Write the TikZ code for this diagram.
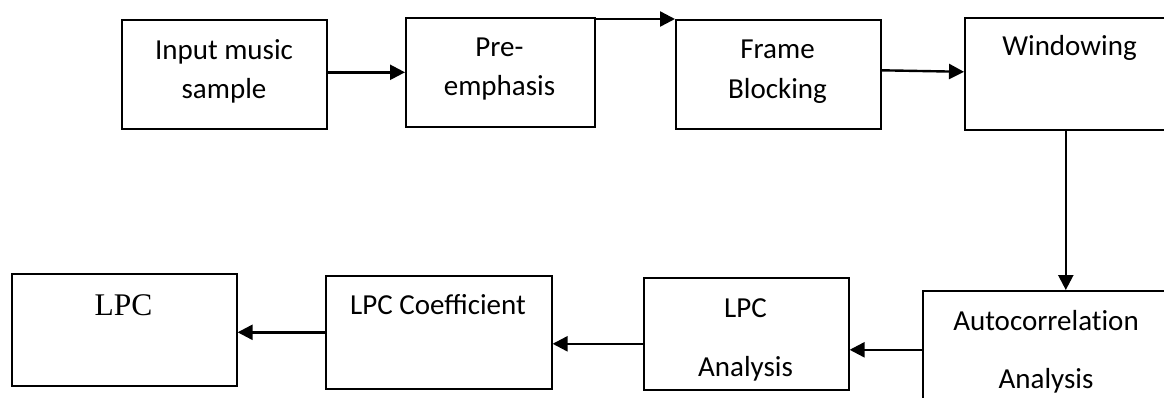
\documentclass[tikz,border=0pt]{standalone}
\usepackage{fontspec}
\setmainfont{Carlito}
\newfontfamily\tnr{Liberation Serif}
\usetikzlibrary{arrows.meta,positioning}
\tikzset{
  box/.style={draw, line width=1.6pt, inner sep=0pt, anchor=north west},
  lbl/.style={inner sep=0pt, anchor=base, font=\fontsize{29}{39}\selectfont},
  flow/.style={line width=2.4pt, -{Triangle[length=15pt,width=15pt]}}
}
\begin{document}
\begin{tikzpicture}[x=1pt,y=-1pt]
\useasboundingbox (0,0) rectangle (1164,397);
\clip (0,0) rectangle (1164,397);
\fill[white] (0,0) rectangle (1164,397);
% boxes
\node[box, minimum width=205pt, minimum height=109pt] (b1) at (121,19) {};
\node[box, minimum width=189pt, minimum height=109pt] (b2) at (405,17) {};
\node[box, minimum width=205pt, minimum height=109pt] (b3) at (675,19) {};
\node[box, minimum width=211pt, minimum height=112pt] (b4) at (964,17) {};
\node[box, minimum width=248pt, minimum height=118pt] (b5) at (922,290) {};
\node[box, minimum width=205pt, minimum height=112pt] (b6) at (643,277) {};
\node[box, minimum width=226pt, minimum height=113pt] (b7) at (325,275) {};
\node[box, minimum width=225pt, minimum height=112pt] (b8) at (11,273) {};
% texts
\node[lbl] (t1a) at (224,59) {Input music};
\node[lbl] (t1b) at (224,98) {sample};
\node[lbl] (t2a) at (499.5,56) {Pre-};
\node[lbl] (t2b) at (499.5,95) {emphasis};
\node[lbl] (t3a) at (777.5,58) {Frame};
\node[lbl] (t3b) at (777.5,98) {Blocking};
\node[lbl] (t4) at (1069.5,55) {Windowing};
\node[lbl] (t5a) at (1046,330) {Autocorrelat\kern0pt ion};
\node[lbl] (t5b) at (1046,388) {Analysis};
\node[lbl] (t6a) at (745.5,317) {LPC};
\node[lbl] (t6b) at (745.5,376) {Analysis};
\node[lbl] (t7) at (438,314) {LPC Coefficient};
\node[lbl, font=\tnr\fontsize{31.5}{38}\selectfont] (t8) at (123.5,315) {LPC};
% connector end points
\coordinate (c2) at ([yshift=-2pt]b2.north east);
\coordinate (c3) at ([yshift=4pt]b3.east);
\coordinate (c4) at ([yshift=2pt]b4.west);
\coordinate (c4s) at ([xshift=-4.5pt]b4.south);
\coordinate (c6) at ([yshift=-10pt]b6.west);
% connectors
\draw[flow] (b1.east |- b2.west) -- (b2.west);
\draw[flow] (c2) -- (b3.north west);
\draw[flow] (c3) -- (c4);
\draw[flow] (c4s) -- (c4s |- b5.north);
\draw[flow] (b5.west) -- (b6.east |- b5.west);
\draw[flow] (c6) -- (b7.east |- c6);
\draw[flow] (b7.west) -- (b8.east |- b7.west);
\end{tikzpicture}
\end{document}
